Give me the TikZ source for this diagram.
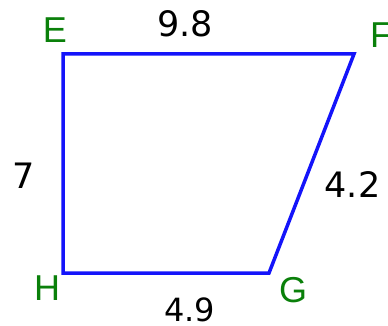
\documentclass[tikz,border=0pt]{standalone}
\usepackage{fontspec}
\setmainfont{DejaVu Sans}
\newfontfamily\letterfont{Liberation Sans}
\definecolor{edgeblue}{RGB}{20,20,250}
\definecolor{vgreen}{RGB}{10,128,10}
\begin{document}
\begin{tikzpicture}[x=1pt,y=-1pt,
  edge/.style={draw=edgeblue,line width=3.5pt,line join=miter},
  vlabel/.style={text=vgreen,inner sep=0pt,anchor=base,font=\letterfont\fontsize{36}{40}\selectfont},
  slabel/.style={text=black,inner sep=0pt,anchor=base,font=\fontsize{35}{40}\selectfont}]
\useasboundingbox (0,0) rectangle (388,326);
\coordinate (E) at (63,54);
\coordinate (F) at (354,54);
\coordinate (G) at (269,273);
\coordinate (H) at (63,273);
\draw[edge] (E) -- (F) -- (G) -- (H) -- cycle;
\node[vlabel] (lE) at (55,43) {E};
\node[vlabel,anchor=base west] (lF) at (370,48) {F};
\node[vlabel] (lG) at (293,302) {G};
\node[vlabel] (lH) at (47,300) {H};
\node[slabel] (s98) at (185,37) {9.8};
\node[slabel] (s7) at (24,188) {7};
\node[slabel] (s42) at (352.5,197) {4.2};
\node[slabel,font=\fontsize{32}{38}\selectfont] (s49) at (189.5,321) {4.9};
\end{tikzpicture}
\end{document}
